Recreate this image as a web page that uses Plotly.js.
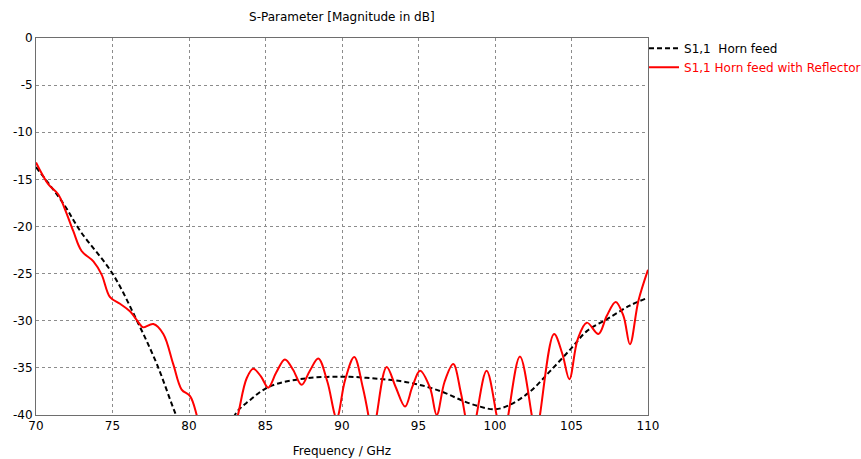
<!DOCTYPE html>
<html>
<head>
<meta charset="utf-8">
<script src="https://cdn.plot.ly/plotly-3.0.1.min.js"></script>
<style>html,body{margin:0;padding:0;background:#fff;}#chart{width:861px;height:459px;}</style>
</head>
<body>
<div id="chart"></div>
<script>
// Horn feed (black dashed)
const hornFreq = [70, 71.8, 72.9, 75, 76.6, 77.9, 79.1, 80.2, 81.5, 82.3, 83.0, 84, 85.1, 86.2, 87.25, 88.3, 89.4, 90.5, 91.6, 92.7, 93.8, 94.8, 95.75, 96.8, 97.9, 99, 100, 101, 102.3, 103.6, 105, 106, 107.3, 108.8, 110];
const hornDb   = [-13.7, -17.6, -20.5, -25.0, -30.0, -34.6, -39.8, -44.0, -46.0, -44.5, -40.0, -38.4, -37.1, -36.5, -36.2, -36.0, -35.95, -35.95, -36.05, -36.2, -36.4, -36.7, -37.1, -37.7, -38.5, -39.1, -39.4, -38.9, -37.5, -35.35, -32.9, -31.1, -29.85, -28.4, -27.55];

// Horn feed with reflector (red solid)
const reflFreq = [70, 70.8, 71.46, 71.9, 72.44, 72.98, 73.75, 74.29, 74.84, 75.49, 76.14, 76.8, 77.0, 77.67, 78.32, 78.97, 79.52, 80.07, 80.5, 81, 81.8, 82.6, 83.2, 83.77, 84.2, 84.7, 85.18, 85.7, 86.27, 86.8, 87.36, 87.9, 88.45, 89.05, 89.65, 90.2, 90.8, 91.35, 91.72, 92.0, 92.27, 92.92, 93.5, 94.12, 94.6, 95.1, 95.75, 96.19, 96.7, 97.27, 97.75, 98.04, 98.4, 98.8, 99.45, 100.1, 100.5, 100.87, 101.63, 102.4, 102.67, 102.94, 103.86, 104.4, 104.86, 105.4, 106.0, 106.76, 107.3, 107.89, 108.4, 108.82, 109.37, 110];
const reflDb   = [-13.2, -15.5, -16.6, -18.2, -20.5, -22.6, -23.7, -25.1, -27.5, -28.2, -29.0, -30.4, -30.7, -30.35, -31.4, -34.6, -37.3, -38.0, -40.0, -44, -47, -44, -40.0, -36.1, -35.1, -35.9, -37.1, -35.5, -34.1, -35.2, -36.8, -35.3, -34.0, -36.5, -40.3, -36.3, -33.85, -37.0, -40.0, -43, -40.0, -34.9, -37.0, -39.1, -37.0, -35.3, -37.1, -40.0, -36.5, -34.6, -37.5, -40.0, -44, -40.0, -35.3, -40.0, -44, -40.0, -33.8, -40.0, -43, -40.0, -31.4, -33.5, -36.2, -32.0, -30.2, -31.4, -29.5, -28.0, -29.5, -32.5, -27.9, -24.6];

const xTicks = [70, 75, 80, 85, 90, 95, 100, 105, 110];
const yTicks = [0, -5, -10, -15, -20, -25, -30, -35, -40];

const traces = [
  {x: hornFreq, y: hornDb, type: 'scatter', mode: 'lines', name: 'S1,1  Horn feed',
   line: {color: '#000000', width: 2, dash: '5px,3px', shape: 'spline', smoothing: 1}},
  {x: reflFreq, y: reflDb, type: 'scatter', mode: 'lines',
   name: '<span style="color:#ff0000">S1,1 Horn feed with Reflector</span>',
   line: {color: '#ff0000', width: 2, shape: 'spline', smoothing: 1}}
];

const axisCommon = {
  showline: true, linecolor: '#6e6e6e', linewidth: 1, mirror: true,
  showgrid: true, gridcolor: '#8c8c8c', griddash: 'dot', gridwidth: 1,
  zeroline: false, ticks: '', automargin: false,
  tickfont: {family: 'DejaVu Sans', size: 12, color: '#000'}
};

const layout = {
  width: 861, height: 459,
  margin: {l: 36, r: 213, t: 38, b: 44, autoexpand: false},
  paper_bgcolor: '#ffffff', plot_bgcolor: '#ffffff',
  font: {family: 'DejaVu Sans', size: 12, color: '#000'},
  title: {text: 'S-Parameter [Magnitude in dB]', font: {family: 'DejaVu Sans', size: 12, color: '#000'},
          x: 0.397, xanchor: 'center', y: 0.972, yanchor: 'top'},
  xaxis: Object.assign({}, axisCommon, {range: [70, 110], tickvals: xTicks, ticktext: xTicks.map(String),
          title: {text: 'Frequency / GHz', font: {family: 'DejaVu Sans', size: 12, color: '#000'}, standoff: 14}}),
  yaxis: Object.assign({}, axisCommon, {range: [-40, 0], tickvals: yTicks, ticktext: yTicks.map(String)}),
  showlegend: true,
  legend: {x: 0.9935, xanchor: 'left', y: 1.011, yanchor: 'top', bgcolor: 'rgba(0,0,0,0)',
           font: {family: 'DejaVu Sans', size: 12, color: '#000'}, tracegroupgap: 0, itemwidth: 30}
};

Plotly.newPlot('chart', traces, layout, {displayModeBar: false, staticPlot: true});
</script>
</body>
</html>
